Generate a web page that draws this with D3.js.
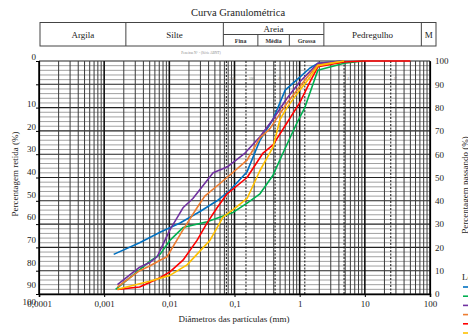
<!DOCTYPE html>
<html><head><meta charset="utf-8">
<script src="https://cdn.jsdelivr.net/npm/d3@7"></script>
<style>
html,body{margin:0;padding:0;background:#fff;}
svg{display:block;font-family:"Liberation Serif","Times New Roman",serif;}
</style></head>
<body>
<svg id="c" width="468" height="336"></svg>
<script>
// ---- data ----
const title = "Curva Granulométrica";
const xTickValues = [0.0001, 0.001, 0.01, 0.1, 1, 10, 100];
const xTickLabels = ["0,0001", "0,001", "0,01", "0,1", "1", "10", "100"];
const leftLabelValues = [0, 10, 20, 30, 40, 50, 60, 70, 80, 90, 100];
const rightTickValues = [0, 10, 20, 30, 40, 50, 60, 70, 80, 90, 100];
const sieveDiameters = [0.075, 0.15, 0.42, 1.2, 4.8, 25];
const sieveLabels = ["200", "100", "40", "16", "4", "1\""];
const headerBounds = [0.0001, 0.002, 0.06, 2, 60, 100];
const headerNames = ["Argila", "Silte", "Areia", "Pedregulho", "M"];
const sandBounds = [0.06, 0.2, 0.6, 2];
const sandNames = ["Fina", "Média", "Grossa"];
const seriesNames = ["Amostra 1", "Amostra 2", "Amostra 3", "Amostra 4", "Amostra 5", "Amostra 6"];
const seriesColors = ["#0070C0", "#00B050", "#7030A0", "#ED7D31", "#FF0000", "#FFC000"];

const blue = [[0.0014,17],[0.0035,22],[0.0072,26.5],[0.0146,30.5],[0.03,35.5],[0.054,40],[0.085,44.5],[0.156,52.5],[0.246,66],[0.39,75],[0.6,87.5],[0.91,92],[1.44,97],[1.9,99],[4.8,100]];
const green = [[0.0015,2],[0.0035,10.5],[0.005,14],[0.0072,17],[0.0102,23],[0.0162,28.5],[0.038,31],[0.095,35],[0.156,39],[0.246,43],[0.39,51],[0.555,60.5],[0.91,73.5],[1.2,80],[1.9,96],[4.8,99],[9.5,100]];
const purple = [[0.0016,4],[0.0035,11.5],[0.005,13.5],[0.0065,16],[0.0102,27.5],[0.0162,37],[0.023,41],[0.047,52],[0.077,54.5],[0.145,60.5],[0.246,67.5],[0.39,75],[0.64,84],[1.0,91],[1.9,99],[4.8,100]];
const orange = [[0.0016,3],[0.0035,10],[0.005,12],[0.0072,14.5],[0.0092,16],[0.0162,27.5],[0.0266,37],[0.035,42],[0.077,50],[0.156,57.5],[0.246,67],[0.35,71],[0.64,82],[1.3,93],[1.9,98.3],[4.8,100]];
const red = [[0.0016,2],[0.0035,3],[0.0072,7],[0.0102,9.5],[0.0162,14.5],[0.0266,23],[0.038,30.5],[0.054,37],[0.077,43],[0.156,50],[0.274,60.5],[0.39,64],[0.64,73.5],[1.0,82],[1.44,91],[1.9,97.5],[4.8,99.6],[9.5,100],[50,100]];
const yellow = [[0.0016,2],[0.005,5.5],[0.0102,8],[0.0187,12.5],[0.042,23],[0.0666,33],[0.109,37.5],[0.156,41],[0.246,53],[0.39,63],[0.5,75],[0.64,80],[1.0,87.5],[1.44,93],[1.9,98],[4.8,100]];
const seriesData = [blue, green, purple, orange, red, yellow];

// ---- layout ----
const svg = d3.select("#c");
const L = 39, R = 430, T = 61, B = 294;
const x = d3.scaleLog().domain([0.0001, 100]).range([L, R]);
const yPass = d3.scaleLinear().domain([0, 100]).range([B, T]);
const yRet = d3.scaleLinear().domain([0, 100]).range([T, B]);
const yLeftLabel = d3.scaleLinear().domain([0, 10, 90, 100]).range([57, 104, 285, 302]);
const hx = d3.scaleLog().domain([0.0001, 100]).range([40, 436]);

// title
svg.append("text").attr("x", 238).attr("y", 16).attr("text-anchor", "middle")
  .attr("font-size", 10.5).attr("fill", "#222").text(title);

// header table
const hT = 22.5, hM = 34.5, hB = 46;
const hg = svg.append("g").attr("stroke", "#444").attr("fill", "none").attr("stroke-width", 1);
hg.append("rect").attr("x", hx(headerBounds[0])).attr("y", hT)
  .attr("width", hx(headerBounds[headerBounds.length-1]) - hx(headerBounds[0])).attr("height", hB - hT);
headerBounds.slice(1, -1).forEach(b => hg.append("line").attr("x1", hx(b)).attr("x2", hx(b)).attr("y1", hT).attr("y2", hB));
hg.append("line").attr("x1", hx(sandBounds[0])).attr("x2", hx(sandBounds[3])).attr("y1", hM).attr("y2", hM);
sandBounds.slice(1, -1).forEach(b => hg.append("line").attr("x1", hx(b)).attr("x2", hx(b)).attr("y1", hM).attr("y2", hB));
headerNames.forEach((n, i) => {
  const cx = (hx(headerBounds[i]) + hx(headerBounds[i+1])) / 2;
  const isSand = n === "Areia";
  svg.append("text").attr("x", cx).attr("y", isSand ? 31.5 : 37.5).attr("text-anchor", "middle")
    .attr("font-size", 9).attr("fill", "#222").text(n);
});
sandNames.forEach((n, i) => {
  const cx = (hx(sandBounds[i]) + hx(sandBounds[i+1])) / 2;
  svg.append("text").attr("x", cx).attr("y", 43).attr("text-anchor", "middle")
    .attr("font-size", 6).attr("font-weight", "bold").attr("fill", "#333").text(n);
});

// small caption
svg.append("text").attr("x", 201).attr("y", 54).attr("text-anchor", "middle")
  .attr("font-size", 3.5).attr("fill", "#888").text("Peneiras N° - (Série ABNT)");

// grid: horizontal
const grid = svg.append("g");
d3.range(0, 101, 2).forEach(v => {
  const major = v % 10 === 0;
  grid.append("line").attr("x1", L).attr("x2", R).attr("y1", yPass(v)).attr("y2", yPass(v))
    .attr("stroke", major ? "#222" : "#a0a0a0").attr("stroke-width", major ? 1.1 : 1);
});
// grid: vertical log lines
for (let e = -4; e < 2; e++) {
  for (let m = 1; m <= 9; m++) {
    const v = m * Math.pow(10, e);
    grid.append("line").attr("x1", x(v)).attr("x2", x(v)).attr("y1", T).attr("y2", B)
      .attr("stroke", m === 1 ? "#111" : "#3a3a3a").attr("stroke-width", m === 1 ? 1.6 : 1);
  }
}
grid.append("line").attr("x1", x(100)).attr("x2", x(100)).attr("y1", T).attr("y2", B)
  .attr("stroke", "#111").attr("stroke-width", 1.6);
// sieve dashed lines
sieveDiameters.forEach((d, i) => {
  grid.append("line").attr("x1", x(d)).attr("x2", x(d)).attr("y1", T).attr("y2", B)
    .attr("stroke", "#111").attr("stroke-width", 1).attr("stroke-dasharray", "2,1.5");
  svg.append("text").attr("x", x(d) + 3).attr("y", 80).attr("font-size", 3.5).attr("fill", "#777").text(sieveLabels[i]);
});

// bottom axis
const xAxis = d3.axisBottom(x).tickValues(xTickValues).tickFormat((d, i) => xTickLabels[i]).tickSize(3).tickPadding(4);
const gx = svg.append("g").attr("transform", `translate(0,${B})`).call(xAxis);
gx.select(".domain").attr("stroke", "#000").attr("stroke-width", 1.6);
gx.selectAll("text").attr("font-size", 9).attr("fill", "#222").attr("font-family", "Liberation Serif, serif");

// left axis (retained)
const yAxisL = d3.axisLeft(yRet).tickValues(d3.range(0, 101, 10)).tickFormat("").tickSize(3);
const gl = svg.append("g").attr("transform", `translate(${L},0)`).call(yAxisL);
gl.select(".domain").attr("stroke", "#000").attr("stroke-width", 1.2);
leftLabelValues.forEach(v => {
  svg.append("text").attr("x", 36).attr("y", yLeftLabel(v)).attr("dy", "0.35em").attr("text-anchor", "end")
    .attr("font-size", 9).attr("fill", "#222").text(v);
});

// right axis (passing)
const yAxisR = d3.axisRight(yPass).tickValues(rightTickValues).tickSize(0).tickPadding(5);
const gr = svg.append("g").attr("transform", `translate(${R},0)`).call(yAxisR);
gr.select(".domain").attr("stroke", "#000").attr("stroke-width", 1.2);
gr.selectAll("text").attr("font-size", 9).attr("fill", "#222").attr("font-family", "Liberation Serif, serif");

// axis titles
svg.append("text").attr("x", 234).attr("y", 322).attr("text-anchor", "middle")
  .attr("font-size", 9).attr("fill", "#222").text("Diâmetros das partículas (mm)");
svg.append("text").attr("transform", "translate(18,174) rotate(-90)").attr("text-anchor", "middle")
  .attr("font-size", 9).attr("fill", "#222").text("Percentagem retida (%)");
svg.append("text").attr("transform", "translate(468,185) rotate(-90)").attr("text-anchor", "middle")
  .attr("font-size", 9).attr("fill", "#222").text("Percentagem passando (%)");

// series
const line = d3.line().x(d => x(d[0])).y(d => yPass(d[1]));
seriesData.forEach((s, i) => {
  svg.append("path").datum(s).attr("d", line).attr("fill", "none")
    .attr("stroke", seriesColors[i]).attr("stroke-width", 1.6).attr("stroke-linejoin", "round");
});

// legend (mostly outside the window)
svg.append("text").attr("x", 462).attr("y", 280).attr("font-size", 9).attr("fill", "#222").text("Legenda");
seriesNames.forEach((n, i) => {
  const yy = 287 + i * 9.2;
  svg.append("line").attr("x1", 463).attr("x2", 470).attr("y1", yy).attr("y2", yy)
    .attr("stroke", seriesColors[i]).attr("stroke-width", 1.6);
  svg.append("text").attr("x", 473).attr("y", yy + 3).attr("font-size", 8).text(n);
});
</script>
</body></html>
